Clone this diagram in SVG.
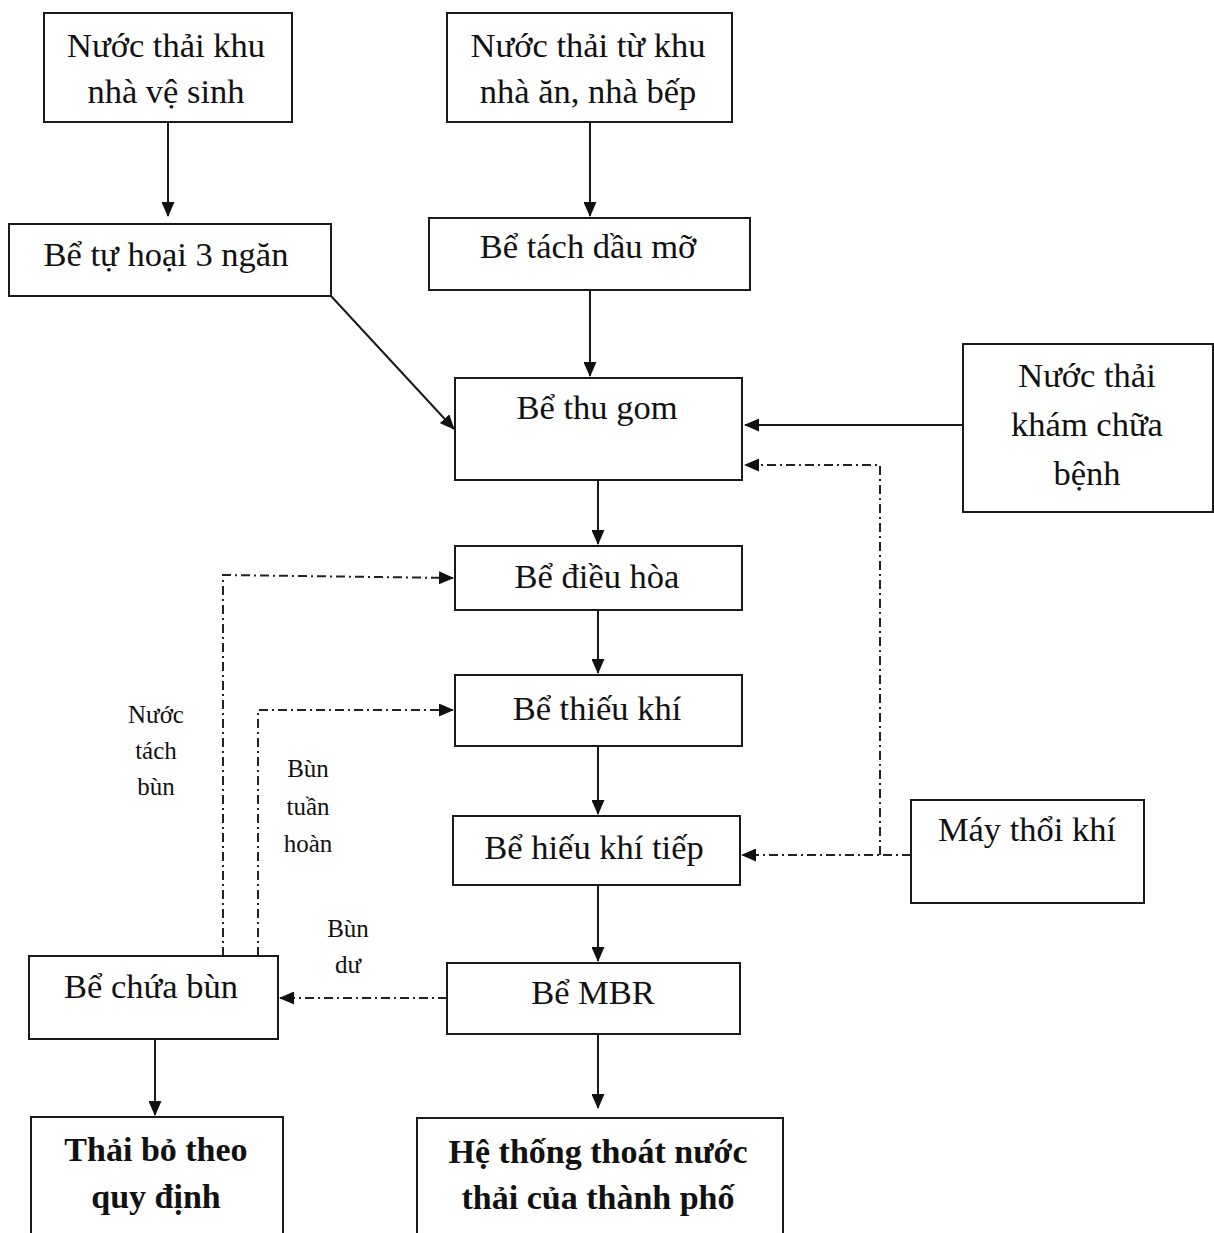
<svg xmlns="http://www.w3.org/2000/svg" width="1214" height="1233" viewBox="0 0 1214 1233">
<style>
.box{fill:#fff;stroke:#1a1a1a;stroke-width:2}
.t{font-family:"Liberation Serif","Times New Roman",serif;font-size:34.5px;fill:#111;text-anchor:middle}
.b{font-family:"Liberation Serif","Times New Roman",serif;font-size:34px;font-weight:bold;fill:#111;text-anchor:middle}
.s{font-family:"Liberation Serif","Times New Roman",serif;font-size:25px;fill:#111;text-anchor:middle}
.ln{fill:none;stroke:#1a1a1a;stroke-width:2}
.dl{fill:none;stroke:#222;stroke-width:2;stroke-dasharray:9 4 2 4}
</style>
<defs>
<marker id="ah" markerWidth="15" markerHeight="13" refX="14" refY="6.5" orient="auto" markerUnits="userSpaceOnUse">
<path d="M0,0 L15,6.5 L0,13 Z" fill="#111"/>
</marker>
</defs>
<rect width="1214" height="1233" fill="#fff"/>
<g id="connectors">
<line class="ln" x1="168" y1="122" x2="168" y2="216" marker-end="url(#ah)"/>
<line class="ln" x1="590" y1="122" x2="590" y2="216" marker-end="url(#ah)"/>
<line class="ln" x1="331" y1="296" x2="454" y2="429" marker-end="url(#ah)"/>
<line class="ln" x1="590" y1="290" x2="590" y2="376" marker-end="url(#ah)"/>
<line class="ln" x1="963" y1="425" x2="745" y2="425" marker-end="url(#ah)"/>
<polyline class="dl" points="880,855 880,465 745,465" marker-end="url(#ah)"/>
<line class="dl" x1="911" y1="855" x2="742" y2="855" marker-end="url(#ah)"/>
<line class="ln" x1="598" y1="480" x2="598" y2="544" marker-end="url(#ah)"/>
<line class="ln" x1="598" y1="610" x2="598" y2="673" marker-end="url(#ah)"/>
<line class="ln" x1="598" y1="746" x2="598" y2="814" marker-end="url(#ah)"/>
<line class="ln" x1="598" y1="885" x2="598" y2="961" marker-end="url(#ah)"/>
<line class="ln" x1="598" y1="1034" x2="598" y2="1108" marker-end="url(#ah)"/>
<line class="ln" x1="155" y1="1039" x2="155" y2="1115" marker-end="url(#ah)"/>
<line class="dl" x1="447" y1="998" x2="280" y2="998" marker-end="url(#ah)"/>
<polyline class="dl" points="223,956 223,575 453,578" marker-end="url(#ah)"/>
<polyline class="dl" points="258,956 258,710 453,710" marker-end="url(#ah)"/>
<text class="s" x="156" y="723">Nước</text>
<text class="s" x="156" y="759">tách</text>
<text class="s" x="156" y="795">bùn</text>
<text class="s" x="308" y="777">Bùn</text>
<text class="s" x="308" y="815">tuần</text>
<text class="s" x="308" y="852">hoàn</text>
<text class="s" x="348" y="937">Bùn</text>
<text class="s" x="348" y="973">dư</text>
</g>
<g id="n1"><rect class="box" x="44" y="13" width="248" height="109"/><text class="t" x="166" y="57">Nước thải khu</text><text class="t" x="166" y="103">nhà vệ sinh</text></g>
<g id="n2"><rect class="box" x="447" y="13" width="285" height="109"/><text class="t" x="588" y="57">Nước thải từ khu</text><text class="t" x="588" y="103">nhà ăn, nhà bếp</text></g>
<g id="n3"><rect class="box" x="9" y="224" width="322" height="72"/><text class="t" x="166" y="266">Bể tự hoại 3 ngăn</text></g>
<g id="n4"><rect class="box" x="429" y="218" width="321" height="72"/><text class="t" x="588" y="258">Bể tách dầu mỡ</text></g>
<g id="n5"><rect class="box" x="455" y="378" width="287" height="102"/><text class="t" x="597" y="419">Bể thu gom</text></g>
<g id="n6"><rect class="box" x="963" y="344" width="250" height="168"/><text class="t" x="1087" y="387">Nước thải</text><text class="t" x="1087" y="436">khám chữa</text><text class="t" x="1087" y="485">bệnh</text></g>
<g id="n7"><rect class="box" x="455" y="546" width="287" height="64"/><text class="t" x="597" y="588">Bể điều hòa</text></g>
<g id="n8"><rect class="box" x="455" y="675" width="287" height="71"/><text class="t" x="597" y="720">Bể thiếu khí</text></g>
<g id="n9"><rect class="box" x="453" y="816" width="287" height="69"/><text class="t" x="594" y="859">Bể hiếu khí tiếp</text></g>
<g id="n10"><rect class="box" x="911" y="800" width="233" height="103"/><text class="t" x="1027" y="841">Máy thổi khí</text></g>
<g id="n11"><rect class="box" x="29" y="956" width="249" height="83"/><text class="t" x="151" y="998">Bể chứa bùn</text></g>
<g id="n12"><rect class="box" x="447" y="963" width="293" height="71"/><text class="t" x="593" y="1004">Bể MBR</text></g>
<g id="n13"><rect class="box" x="31" y="1117" width="252" height="140"/><text class="b" x="156" y="1161">Thải bỏ theo</text><text class="b" x="156" y="1208">quy định</text></g>
<g id="n14"><rect class="box" x="417" y="1118" width="366" height="140"/><text class="b" x="598" y="1163">Hệ thống thoát nước</text><text class="b" x="598" y="1209">thải của thành phố</text></g>
</svg>
